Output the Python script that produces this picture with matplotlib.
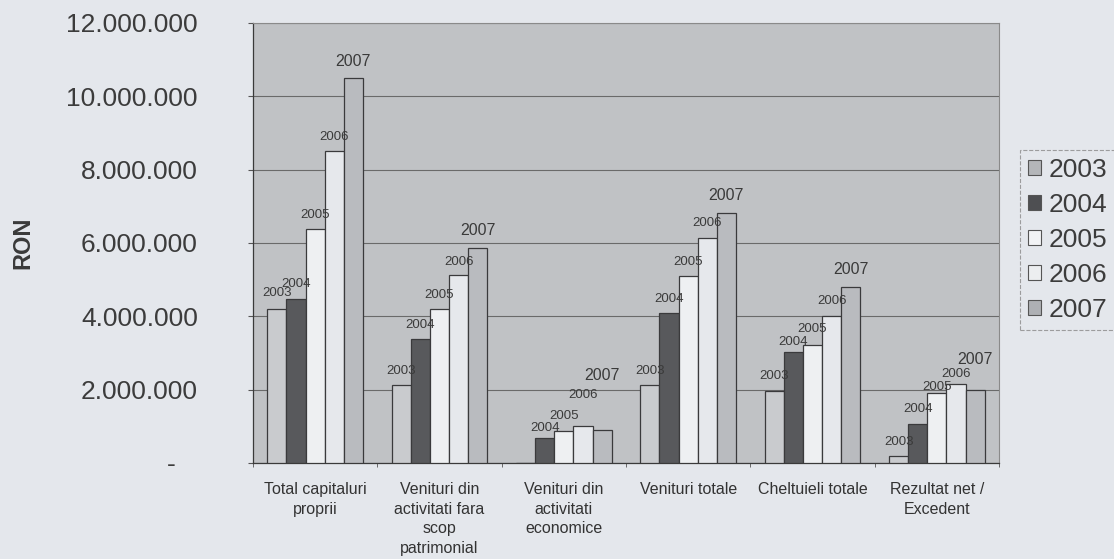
import numpy as np
import matplotlib
matplotlib.use("Agg")
import matplotlib.pyplot as plt
from matplotlib.patches import Patch

plt.rcParams['font.family'] = ['Liberation Sans', 'DejaVu Sans']

# data
categories = ['Total capitaluri\nproprii',
              'Venituri din\nactivitati fara\nscop\npatrimonial',
              'Venituri din\nactivitati\neconomice',
              'Venituri totale',
              'Cheltuieli totale',
              'Rezultat net /\nExcedent']
years = ['2003', '2004', '2005', '2006', '2007']
v2003 = [4210000, 2130000, 0, 2130000, 1960000, 190000]
v2004 = [4460000, 3390000, 690000, 4090000, 3030000, 1070000]
v2005 = [6370000, 4200000, 870000, 5110000, 3210000, 1920000]
v2006 = [8500000, 5120000, 1000000, 6150000, 4000000, 2150000]
v2007 = [10490000, 5870000, 910000, 6810000, 4810000, 1980000]
yticks = [0, 2000000, 4000000, 6000000, 8000000, 10000000, 12000000]

# styles
bar_colors = ['#c9cbce', '#58595c', '#eef0f2', '#e6e8ec', '#b9bbbf']
legend_colors = ['#b4b6b9', '#4e4f52', '#f2f3f5', '#eceef0', '#aeb0b4']
# label offsets above bar top (pixels), one row per year
label_off = [[15.6, 14.3, 0, 14, 14.7, 13.7],
             [15, 13.4, 9.7, 14, 10, 15],
             [14.6, 14.4, 15, 14, 16, 5.7],
             [14, 13.7, 31.7, 14, 15, 10.6],
             [16.7, 17.4, 54, 18, 17.6, 31]]

fig = plt.figure(figsize=(11.14, 5.59), dpi=100)
fig.patch.set_facecolor('#e4e7ec')
ax = fig.add_axes([253/1114, 96/559, 746/1114, 440/559])
ax.set_facecolor('#c0c2c5')

series = [v2003, v2004, v2005, v2006, v2007]
x = np.arange(len(categories))
w = 1/6.5
for i, vals in enumerate(series):
    xs = x + (i - 2)*w
    ax.bar(xs, vals, w, color=bar_colors[i], edgecolor='#3a3a3c', linewidth=0.9, zorder=3)
    fs = 11.5 if i == 4 else 9.5
    for j, v in enumerate(vals):
        if v == 0:
            continue
        ax.annotate(years[i], (xs[j], v), xytext=(0, label_off[i][j]*0.72),
                    textcoords='offset points', ha='center', va='center',
                    fontsize=fs, color='#3a3a3a', zorder=4)

ax.set_xlim(-0.5, 5.5)
ax.set_ylim(0, 12000000)
ax.set_yticks(yticks)
ax.set_yticklabels(['-   ' if t == 0 else '{:,.0f}'.format(t).replace(',', '.') for t in yticks],
                   fontsize=19, color='#3c3c3c')
ax.tick_params(axis='y', length=3.6, pad=36, color='#555555')
ax.grid(axis='y', color='#6a6a6a', linewidth=0.8, zorder=1)

ax.set_xticks(x)
ax.set_xticklabels(categories, fontsize=11.5, color='#333333', linespacing=1.4)
ax.tick_params(axis='x', which='major', length=0, pad=13.5)
ax.set_xticks(np.arange(-0.5, 6, 1), minor=True)
ax.tick_params(axis='x', which='minor', length=3, color='#555555')

for s in ['left', 'bottom']:
    ax.spines[s].set_color('#3a3a3a')
    ax.spines[s].set_linewidth(0.9)
for s in ['top', 'right']:
    ax.spines[s].set_color('#8a8a8a')
    ax.spines[s].set_linewidth(0.8)

fig.text(23/1114, 1 - 243/559, 'RON', rotation=90, ha='center', va='center',
         fontsize=17, fontweight='bold', color='#3a3a3a')

handles = [Patch(facecolor=legend_colors[i], edgecolor='#555555', linewidth=0.8) for i in range(5)]
leg = fig.legend(handles, years, loc='upper left', bbox_to_anchor=(1020/1114, 1 - 150/559),
                 fontsize=19, handlelength=0.5, handleheight=0.5, handletextpad=0.3,
                 labelspacing=0.42, borderpad=0.3, borderaxespad=0, fancybox=False,
                 facecolor='#e4e7ec', edgecolor='#8a8a8a', labelcolor='#3c3c3c')
leg.get_frame().set_linestyle('--')
leg.get_frame().set_linewidth(0.8)

fig.savefig('out.png', dpi=100, facecolor=fig.get_facecolor())
